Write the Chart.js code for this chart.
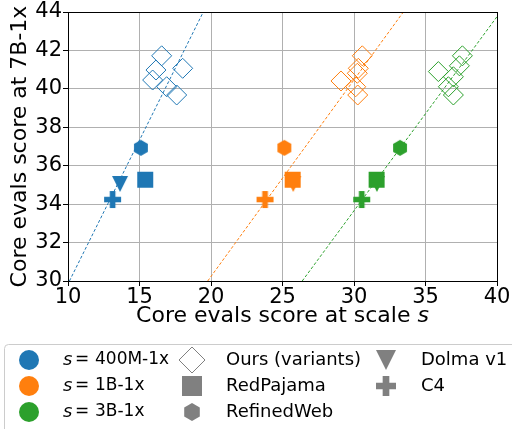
<!DOCTYPE html>
<html>
<head>
<meta charset="utf-8">
<script src="https://cdn.jsdelivr.net/npm/chart.js@4.4.0/dist/chart.umd.min.js"></script>
<style>
  html, body { margin: 0; padding: 0; background: #fff; }
</style>
</head>
<body>
<canvas id="chart" width="512" height="429"></canvas>
<script>
// values: x = core evals at scale s, y = core evals at 7B-1x
const scaleNames = ['400M-1x', '1B-1x', '3B-1x'];
const scaleColors = ['#1f77b4', '#ff7f0e', '#2ca02c'];

const oursX400M = [16.55, 18.02, 16.15, 15.92, 16.9, 17.6];
const oursY400M = [41.72, 41.07, 40.98, 40.46, 40.11, 39.68];
const oursX1B = [30.58, 30.3, 30.23, 29.09, 30.12, 30.26];
const oursY1B = [41.72, 41.07, 40.81, 40.41, 40.11, 39.68];
const oursX3B = [37.58, 37.37, 35.9, 36.95, 36.6, 36.95];
const oursY3B = [41.72, 41.2, 40.9, 40.63, 40.11, 39.68];

// baselines: x for 400M, 1B, 3B ; y is the single 7B-1x score
const refinedWebX = [15.1, 25.13, 33.22];
const refinedWebY = 36.93;
const redPajamaX = [15.4, 25.71, 31.58];
const redPajamaY = 35.27;
const dolmaX = [13.64, 25.75, 31.6];
const dolmaY = 35.05;
const c4X = [13.12, 23.78, 30.54];
const c4Y = 34.24;

// dashed fit lines, x where each line meets y = 30 and y = 44
const fitY = [30, 44];
const fitXLow = [10.1, 19.77, 26.38];
const fitXHigh = [19.46, 33.45, 40.24];

const xTicks = [10, 15, 20, 25, 30, 35, 40];
const yTicks = [30, 32, 34, 36, 38, 40, 42, 44];

const FONT = '"DejaVu Sans", "Liberation Sans", sans-serif';
const GREY = '#808080';

// marker pictures for shapes chart.js doesn't have
function makeMarker(shape, color, size) {
    const c = document.createElement('canvas');
    const d = Math.ceil(size) + 2;
    c.width = d;
    c.height = d;
    const g = c.getContext('2d');
    drawShape(g, shape, d / 2, d / 2, size, color);
    return c;
}

function drawShape(g, shape, x, y, size, color) {
    const h = size / 2;
    g.fillStyle = color;
    g.beginPath();
    if (shape === 'square') {
        g.rect(x - h, y - h, size, size);
    } else if (shape === 'triangle') {
        g.moveTo(x - h, y - h);
        g.lineTo(x + h, y - h);
        g.lineTo(x, y + h);
        g.closePath();
    } else if (shape === 'hexagon') {
        for (let k = 0; k < 6; k++) {
            const a = -Math.PI / 2 + k * Math.PI / 3;
            const px = x + h * Math.cos(a), py = y + h * Math.sin(a);
            if (k === 0) g.moveTo(px, py); else g.lineTo(px, py);
        }
        g.closePath();
    } else if (shape === 'plus') {
        const t = size / 6;
        const pts = [[-t, -h], [t, -h], [t, -t], [h, -t], [h, t], [t, t],
                     [t, h], [-t, h], [-t, t], [-h, t], [-h, -t], [-t, -t]];
        pts.forEach((p, i) => i ? g.lineTo(x + p[0], y + p[1]) : g.moveTo(x + p[0], y + p[1]));
        g.closePath();
    } else if (shape === 'circle') {
        g.arc(x, y, h, 0, Math.PI * 2);
    }
    g.fill();
}

function pts(xs, y) {
    return xs.map((x, i) => ({ x: x, y: Array.isArray(y) ? y[i] : y }));
}

const oursX = [oursX400M, oursX1B, oursX3B];
const oursY = [oursY400M, oursY1B, oursY3B];

const datasets = [];
scaleNames.forEach((name, i) => {
    const col = scaleColors[i];
    datasets.push({
        label: 'fit ' + name,
        data: [{ x: fitXLow[i], y: fitY[0] }, { x: fitXHigh[i], y: fitY[1] }],
        showLine: true,
        borderColor: col,
        borderWidth: 1,
        borderDash: [3, 2],
        pointRadius: 0,
        order: 100
    });
    datasets.push({
        label: 'Ours ' + name,
        data: pts(oursX[i], oursY[i]),
        pointStyle: 'rectRot',
        pointRadius: 10,
        borderColor: col,
        backgroundColor: 'rgba(0,0,0,0)',
        borderWidth: 1,
        order: 10
    });
    datasets.push({
        label: 'Dolma v1 ' + name,
        data: [{ x: dolmaX[i], y: dolmaY }],
        pointStyle: makeMarker('triangle', col, 16),
        pointRadius: 8,
        order: 50
    });
    datasets.push({
        label: 'C4 ' + name,
        data: [{ x: c4X[i], y: c4Y }],
        pointStyle: makeMarker('plus', col, 17),
        pointRadius: 8,
        order: 40
    });
    datasets.push({
        label: 'RefinedWeb ' + name,
        data: [{ x: refinedWebX[i], y: refinedWebY }],
        pointStyle: makeMarker('hexagon', col, 16),
        pointRadius: 8,
        order: 30
    });
    datasets.push({
        label: 'RedPajama ' + name,
        data: [{ x: redPajamaX[i], y: redPajamaY }],
        pointStyle: makeMarker('square', col, 16),
        pointRadius: 8,
        order: 20
    });
});

// legend in three columns, drawn under the axes
const legendCol2 = ['Ours (variants)', 'RedPajama', 'RefinedWeb'];
const legendCol3 = ['Dolma v1', 'C4'];

const extrasPlugin = {
    id: 'extras',
    afterDraw(chart) {
        const ctx = chart.ctx;
        const a = chart.chartArea;
        ctx.save();

        // full frame like matplotlib spines
        ctx.strokeStyle = '#000';
        ctx.lineWidth = 1;
        ctx.strokeRect(Math.round(a.left) + 0.5, Math.round(a.top) + 0.5,
                       Math.round(a.right - a.left), Math.round(a.bottom - a.top));

        // x axis title with italic s
        const xt = 'Core evals score at scale ';
        ctx.fillStyle = '#000';
        ctx.textBaseline = 'middle';
        ctx.textAlign = 'left';
        ctx.font = '22px ' + FONT;
        const w1 = ctx.measureText(xt).width;
        ctx.font = 'italic 22px ' + FONT;
        const w2 = ctx.measureText('s').width;
        let sx = (a.left + a.right) / 2 - (w1 + w2) / 2;
        ctx.font = '22px ' + FONT;
        ctx.fillText(xt, sx, a.bottom + 35);
        ctx.font = 'italic 22px ' + FONT;
        ctx.fillText('s', sx + w1, a.bottom + 35);

        // legend box
        const top = chart.height - 85;
        ctx.strokeStyle = '#cccccc';
        ctx.beginPath();
        ctx.roundRect(4.5, top + 0.5, chart.width + 10, 100, 4);
        ctx.stroke();

        const rows = [top + 16, top + 42, top + 68];

        scaleNames.forEach((name, i) => {
            drawShape(ctx, 'circle', 29, rows[i], 20, scaleColors[i]);
            ctx.fillStyle = '#000';
            ctx.font = 'italic 18px ' + FONT;
            ctx.fillText('s', 63, rows[i]);
            ctx.font = '17px ' + FONT;
            ctx.textAlign = 'center';
            ctx.fillText('=', 82, rows[i]);
            ctx.textAlign = 'left';
            ctx.fillText(name, 95, rows[i]);
        });

        ctx.font = '18px ' + FONT;

        // column 2
        ctx.strokeStyle = GREY;
        ctx.lineWidth = 1;
        ctx.beginPath();
        ctx.moveTo(192, rows[0] - 13);
        ctx.lineTo(205, rows[0]);
        ctx.lineTo(192, rows[0] + 13);
        ctx.lineTo(179, rows[0]);
        ctx.closePath();
        ctx.stroke();
        drawShape(ctx, 'square', 192, rows[1], 20, GREY);
        drawShape(ctx, 'hexagon', 192, rows[2], 18, GREY);
        legendCol2.forEach((t, i) => {
            ctx.fillStyle = '#000';
            ctx.fillText(t, 226, rows[i]);
        });

        // column 3
        drawShape(ctx, 'triangle', 386, rows[0], 20, GREY);
        drawShape(ctx, 'plus', 386, rows[1], 20, GREY);
        legendCol3.forEach((t, i) => {
            ctx.fillStyle = '#000';
            ctx.fillText(t, 421, rows[i]);
        });

        ctx.restore();
    }
};

new Chart(document.getElementById('chart'), {
    type: 'scatter',
    data: { datasets: datasets },
    options: {
        responsive: false,
        animation: false,
        events: [],
        layout: { padding: { left: 0, top: 12, right: 15, bottom: 98 } },
        plugins: {
            legend: { display: false },
            tooltip: { enabled: false }
        },
        scales: {
            x: {
                type: 'linear',
                min: 10,
                max: 40,
                afterBuildTicks: s => { s.ticks = xTicks.map(v => ({ value: v })); },
                afterFit: s => { s.height = 50; },
                ticks: { font: { family: FONT, size: 21, lineHeight: 1 }, color: '#000', padding: 1 },
                grid: { color: '#b0b0b0', lineWidth: 1, tickLength: 5, tickColor: '#000' },
                border: { color: '#000', width: 1 },
                title: { display: false }
            },
            y: {
                type: 'linear',
                min: 30,
                max: 44,
                afterBuildTicks: s => { s.ticks = yTicks.map(v => ({ value: v })); },
                afterFit: s => { s.width = 68; },
                ticks: { font: { family: FONT, size: 21, lineHeight: 1 }, color: '#000', padding: 1 },
                grid: { color: '#b0b0b0', lineWidth: 1, tickLength: 5, tickColor: '#000' },
                border: { color: '#000', width: 1 },
                title: {
                    display: true,
                    text: 'Core evals score at 7B-1x',
                    color: '#000',
                    font: { family: FONT, size: 22 },
                    padding: { top: 7, bottom: 0 }
                }
            }
        }
    },
    plugins: [extrasPlugin]
});
</script>
</body>
</html>
